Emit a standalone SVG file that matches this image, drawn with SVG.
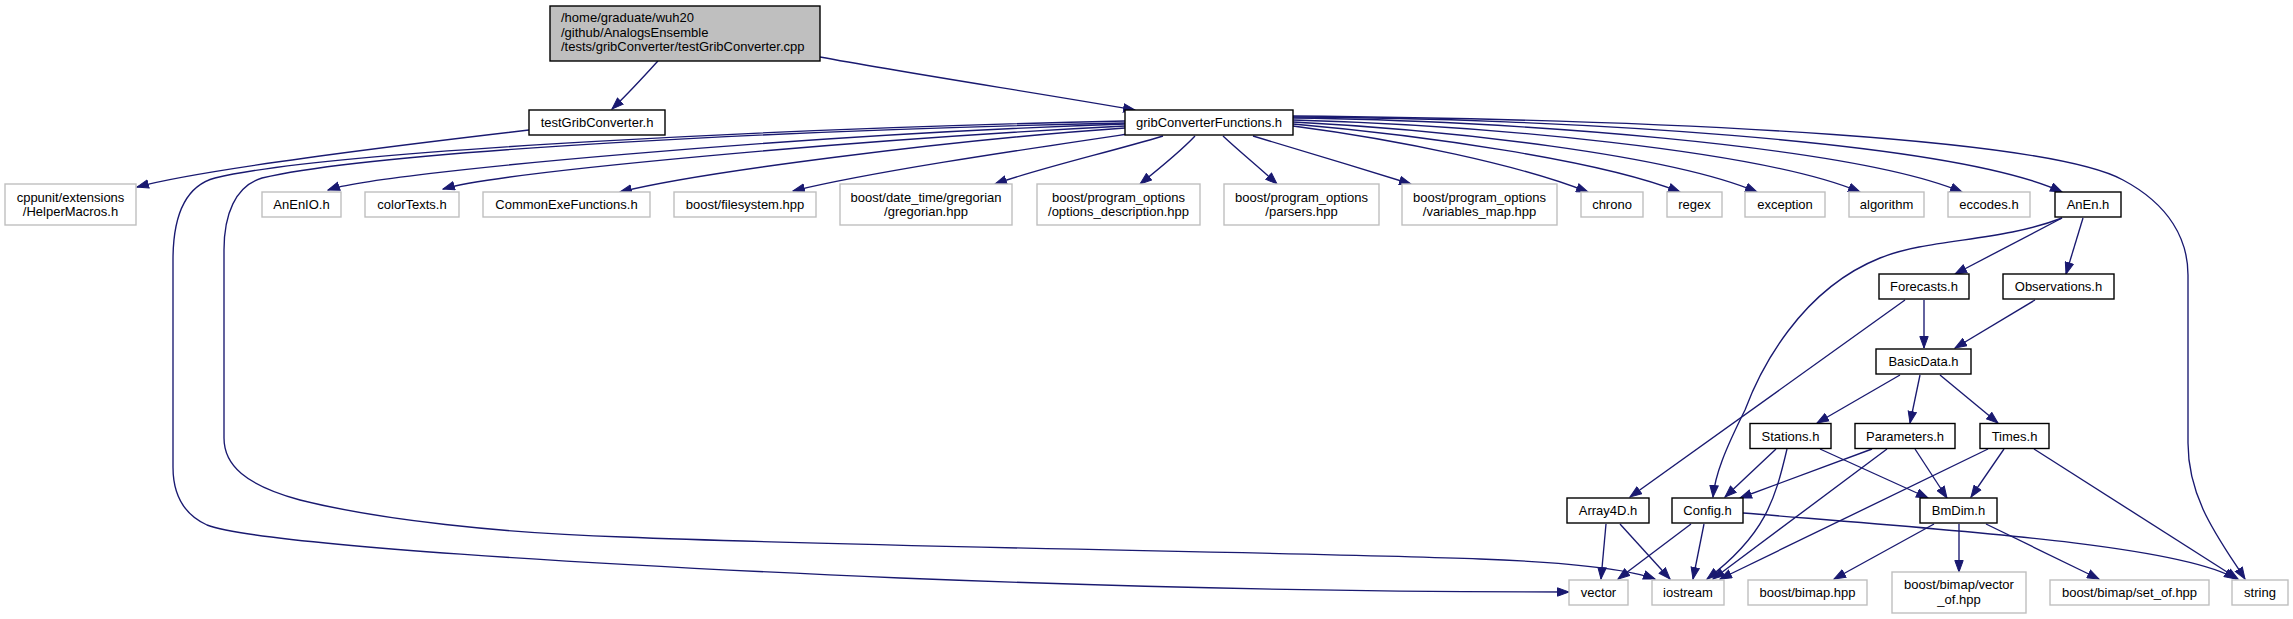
<svg xmlns="http://www.w3.org/2000/svg" width="2293" height="619" viewBox="0 0 2293 619">
<style>
text{font-family:"Liberation Sans",Arial,Helvetica,sans-serif;font-size:13px;fill:#000}
.c{text-anchor:middle}
.leaf rect{fill:#fff;stroke:#bfbfbf;stroke-width:1.4}
.nd rect{fill:#fff;stroke:#000;stroke-width:1.4}
.root rect{fill:#bfbfbf;stroke:#000;stroke-width:1.4}
#edges path{fill:none;stroke:#191970;stroke-width:1.35;marker-end:url(#ah)}
</style>
<defs>
<marker id="ah" markerUnits="userSpaceOnUse" markerWidth="13" markerHeight="10" viewBox="0 0 13 10" refX="12" refY="5" orient="auto">
<path d="M0.5,0.8 L12,5 L0.5,9.2 z" fill="#191970" stroke="#191970" stroke-width="1"/>
</marker>
</defs>
<rect width="2293" height="619" fill="#fff"/>
<g id="edges">
<path d="M658,61 C645,75 630,92 612,109"/>
<path d="M820,57 C900,72 1050,95 1135,110"/>
<path d="M529,130 C400,145 200,170 137,187"/>
<path d="M1125,121 C800,128 330,150 215,178 C185,186 173,215 173,260 L173,467 C173,495 185,515 207,525 C260,545 600,565 900,578 C1200,590 1450,592 1569,592"/>
<path d="M1125,123 C800,130 380,150 262,178 C235,186 224,215 224,250 L224,438 C224,465 245,485 300,500 C380,520 500,533 623,537 C900,548 1300,552 1480,559 C1560,562 1625,568 1655,579"/>
<path d="M1125,124 C800,135 380,172 328,190"/>
<path d="M1125,126 C850,140 500,172 443,189"/>
<path d="M1125,128 C950,140 700,172 620,192"/>
<path d="M1128,134 C1020,150 870,172 793,191"/>
<path d="M1163,136 C1110,152 1040,168 995,184"/>
<path d="M1195,136 C1180,152 1160,168 1140,184"/>
<path d="M1223,136 C1240,152 1260,168 1277,184"/>
<path d="M1253,136 C1300,150 1360,168 1411,184"/>
<path d="M1293,126 C1400,140 1520,165 1588,192"/>
<path d="M1293,124 C1420,135 1600,160 1680,192"/>
<path d="M1293,122 C1450,130 1670,155 1757,192"/>
<path d="M1293,120 C1480,125 1760,150 1860,192"/>
<path d="M1293,118 C1500,120 1850,145 1962,192"/>
<path d="M1293,117 C1550,118 1950,140 2062,192"/>
<path d="M1293,116 C1700,120 2050,140 2123,180 C2170,205 2188,240 2188,275 L2188,443 C2188,500 2220,540 2245,579"/>
<path d="M2062,218 L1955,274"/>
<path d="M2083,218 L2066,274"/>
<path d="M2062,218 C2000,242 1930,238 1880,258 C1800,290 1760,370 1745,410 C1725,450 1715,475 1713,497"/>
<path d="M1905,300 L1630,497"/>
<path d="M1924,300 L1924,348"/>
<path d="M2035,300 L1955,348"/>
<path d="M1900,375 L1817,423"/>
<path d="M1920,375 L1910,423"/>
<path d="M1940,375 L1998,423"/>
<path d="M1776,449 L1725,497"/>
<path d="M1787,449 C1775,500 1765,535 1707,579"/>
<path d="M1820,449 L1928,498"/>
<path d="M1872,449 L1740,498"/>
<path d="M1887,449 L1713,579"/>
<path d="M1915,449 L1947,498"/>
<path d="M1988,449 L1720,579"/>
<path d="M2004,449 L1971,497"/>
<path d="M2034,449 L2238,579"/>
<path d="M1691,524 L1618,579"/>
<path d="M1704,524 L1693,579"/>
<path d="M1743,513 C1950,530 2180,545 2236,579"/>
<path d="M1606,524 L1601,579"/>
<path d="M1620,524 L1670,579"/>
<path d="M1934,524 L1834,579"/>
<path d="M1959,524 L1959,572"/>
<path d="M1986,524 L2099,579"/>
</g>
<g id="root" class="root"><rect x="550" y="6" width="270" height="55"/>
<text x="561" y="22">/home/graduate/wuh20</text><text x="561" y="36.7">/github/AnalogsEnsemble</text><text x="561" y="51.4">/tests/gribConverter/testGribConverter.cpp</text></g>
<g id="testGribConverter" class="nd"><rect x="529" y="110" width="136" height="25"/><text class="c" x="597" y="127">testGribConverter.h</text></g>
<g id="gribConverterFunctions" class="nd"><rect x="1125" y="110" width="168" height="25"/><text class="c" x="1209" y="127">gribConverterFunctions.h</text></g>
<g id="HelperMacros" class="leaf"><rect x="5" y="184" width="131" height="41"/><text class="c" x="70.5" y="201.5">cppunit/extensions</text><text class="c" x="70.5" y="216">/HelperMacros.h</text></g>
<g id="AnEnIO" class="leaf"><rect x="262" y="192" width="79" height="25"/><text class="c" x="301.5" y="209">AnEnIO.h</text></g>
<g id="colorTexts" class="leaf"><rect x="365" y="192" width="94" height="25"/><text class="c" x="412" y="209">colorTexts.h</text></g>
<g id="CommonExeFunctions" class="leaf"><rect x="483" y="192" width="167" height="25"/><text class="c" x="566.5" y="209">CommonExeFunctions.h</text></g>
<g id="filesystem" class="leaf"><rect x="674" y="192" width="142" height="25"/><text class="c" x="745" y="209">boost/filesystem.hpp</text></g>
<g id="gregorian" class="leaf"><rect x="840" y="184" width="172" height="41"/><text class="c" x="926" y="201.5">boost/date_time/gregorian</text><text class="c" x="926" y="216">/gregorian.hpp</text></g>
<g id="options_description" class="leaf"><rect x="1037" y="184" width="163" height="41"/><text class="c" x="1118.5" y="201.5">boost/program_options</text><text class="c" x="1118.5" y="216">/options_description.hpp</text></g>
<g id="parsers" class="leaf"><rect x="1224" y="184" width="155" height="41"/><text class="c" x="1301.5" y="201.5">boost/program_options</text><text class="c" x="1301.5" y="216">/parsers.hpp</text></g>
<g id="variables_map" class="leaf"><rect x="1402" y="184" width="155" height="41"/><text class="c" x="1479.5" y="201.5">boost/program_options</text><text class="c" x="1479.5" y="216">/variables_map.hpp</text></g>
<g id="chrono" class="leaf"><rect x="1581" y="192" width="62" height="25"/><text class="c" x="1612" y="209">chrono</text></g>
<g id="regex" class="leaf"><rect x="1667" y="192" width="55" height="25"/><text class="c" x="1694.5" y="209">regex</text></g>
<g id="exception" class="leaf"><rect x="1745" y="192" width="80" height="25"/><text class="c" x="1785" y="209">exception</text></g>
<g id="algorithm" class="leaf"><rect x="1849" y="192" width="75" height="25"/><text class="c" x="1886.5" y="209">algorithm</text></g>
<g id="eccodes" class="leaf"><rect x="1948" y="192" width="82" height="25"/><text class="c" x="1989" y="209">eccodes.h</text></g>
<g id="AnEn" class="nd"><rect x="2055" y="192" width="66" height="25"/><text class="c" x="2088" y="209">AnEn.h</text></g>
<g id="Forecasts" class="nd"><rect x="1879" y="274" width="90" height="25"/><text class="c" x="1924" y="291">Forecasts.h</text></g>
<g id="Observations" class="nd"><rect x="2003" y="274" width="111" height="25"/><text class="c" x="2058.5" y="291">Observations.h</text></g>
<g id="BasicData" class="nd"><rect x="1876" y="349" width="95" height="25"/><text class="c" x="1923.5" y="366">BasicData.h</text></g>
<g id="Stations" class="nd"><rect x="1750" y="423.5" width="81" height="25"/><text class="c" x="1790.5" y="440.5">Stations.h</text></g>
<g id="Parameters" class="nd"><rect x="1855" y="423.5" width="100" height="25"/><text class="c" x="1905" y="440.5">Parameters.h</text></g>
<g id="Times" class="nd"><rect x="1980" y="423.5" width="69" height="25"/><text class="c" x="2014.5" y="440.5">Times.h</text></g>
<g id="Array4D" class="nd"><rect x="1567" y="498" width="82" height="25"/><text class="c" x="1608" y="515">Array4D.h</text></g>
<g id="Config" class="nd"><rect x="1672" y="498" width="71" height="25"/><text class="c" x="1707.5" y="515">Config.h</text></g>
<g id="BmDim" class="nd"><rect x="1920" y="498" width="77" height="25"/><text class="c" x="1958.5" y="515">BmDim.h</text></g>
<g id="vector" class="leaf"><rect x="1569" y="580" width="59" height="25"/><text class="c" x="1598.5" y="597">vector</text></g>
<g id="iostream" class="leaf"><rect x="1652" y="580" width="72" height="25"/><text class="c" x="1688" y="597">iostream</text></g>
<g id="bimap" class="leaf"><rect x="1748" y="580" width="119" height="25"/><text class="c" x="1807.5" y="597">boost/bimap.hpp</text></g>
<g id="vector_of" class="leaf"><rect x="1892" y="572" width="134" height="41"/><text class="c" x="1959" y="589">boost/bimap/vector</text><text class="c" x="1959" y="603.5">_of.hpp</text></g>
<g id="set_of" class="leaf"><rect x="2050" y="580" width="159" height="25"/><text class="c" x="2129.5" y="597">boost/bimap/set_of.hpp</text></g>
<g id="string" class="leaf"><rect x="2232" y="580" width="56" height="25"/><text class="c" x="2260" y="597">string</text></g>
</svg>
